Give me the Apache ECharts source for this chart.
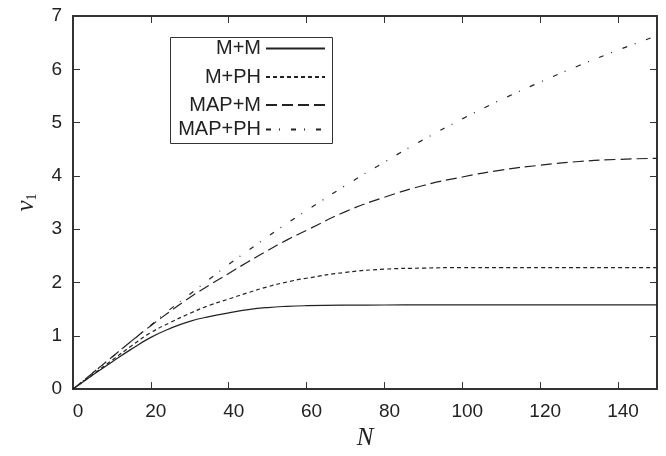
<!DOCTYPE html>
<html>
<head>
<meta charset="utf-8">
<script src="https://cdn.jsdelivr.net/npm/echarts@6/dist/echarts.min.js"></script>
<style>
html,body{margin:0;padding:0;background:#fff;}
#c{width:666px;height:456px;}
</style>
</head>
<body>
<div id="c"></div>
<script>
var N = [0,5,10,15,20,25,30,35,40,45,50,55,60,70,80,90,100,110,120,130,140,150];
var seriesNames = ['M+M','M+PH','MAP+M','MAP+PH'];
var mm    = [0,0.26,0.51,0.75,0.97,1.14,1.27,1.36,1.43,1.49,1.53,1.553,1.565,1.575,1.578,1.58,1.58,1.58,1.58,1.58,1.58,1.58];
var mph   = [0,0.27,0.54,0.81,1.06,1.25,1.42,1.57,1.69,1.81,1.92,2.01,2.08,2.19,2.25,2.27,2.28,2.28,2.28,2.28,2.28,2.28];
var mapm  = [0,0.3,0.6,0.9,1.19,1.46,1.72,1.95,2.17,2.39,2.6,2.8,2.98,3.33,3.6,3.82,3.98,4.11,4.2,4.27,4.31,4.33];
var mapph = [0,0.3,0.6,0.9,1.2,1.5,1.78,2.06,2.34,2.6,2.86,3.11,3.35,3.82,4.26,4.68,5.07,5.43,5.76,6.07,6.36,6.63];
var xTicks = [0,20,40,60,80,100,120,140];
var yTicks = [0,1,2,3,4,5,6,7];

function pairs(ys){ return N.map(function(n,i){ return [n, ys[i]]; }); }
var values = [mm, mph, mapm, mapph];
var dashes = ['solid', [4,3], [11,5], [5,8,1,11]];
var legendCenters = [48.5, 77, 105, 129.5];

var frameColor = '#333';
var lineColor = '#222';
var font = 'Liberation Sans, Arial, sans-serif';

var chart = echarts.init(document.getElementById('c'), null, {renderer:'canvas'});

function xAx(pos, showLabel){
  return {
    type:'value', position:pos, min:0, max:150, interval:20,
    axisLine:{show:true, onZero:false, lineStyle:{color:frameColor, width:2}},
    axisTick:{show:true, inside:true, length:7, lineStyle:{color:frameColor, width:1}},
    axisLabel:{show:showLabel, color:'#222', fontSize:19, fontFamily:font, margin:13, padding:[0,0,0,10],
      showMaxLabel:false},
    splitLine:{show:false},
    name: showLabel ? 'N' : '',
    nameLocation:'middle', nameGap:29,
    nameTextStyle:{fontFamily:'Liberation Serif, Times New Roman, serif', fontStyle:'italic', fontSize:25, color:'#222'}
  };
}
function yAx(pos, showLabel){
  return {
    type:'value', position:pos, min:0, max:7, interval:1,
    axisLine:{show:true, onZero:false, lineStyle:{color:frameColor, width:2}},
    axisTick:{show:true, inside:true, length:7, lineStyle:{color:frameColor, width:1}},
    axisLabel:{show:showLabel, color:'#222', fontSize:19, fontFamily:font, margin:11},
    splitLine:{show:false},
    name: showLabel ? '{a|ν}{b|1}' : '',
    nameLocation:'middle', nameGap:34,
    nameTextStyle:{
      rich:{
        a:{fontFamily:'Liberation Serif, Times New Roman, serif', fontStyle:'italic', fontSize:25, color:'#222'},
        b:{fontFamily:'Liberation Serif, Times New Roman, serif', fontSize:14, color:'#222', padding:[12,0,0,0]}
      }
    }
  };
}

var legends = seriesNames.map(function(name, i){
  return {
    data:[name], orient:'vertical', align:'right', right:340, top:legendCenters[i]-10,
    padding:0, itemWidth:59, itemHeight:20, itemGap:0, selectedMode:false,
    itemStyle:{opacity:0},
    textStyle:{fontSize:20, fontFamily:font, color:'#222', lineHeight:20}
  };
});

var series = seriesNames.map(function(name, i){
  return {
    name:name, type:'line', data:pairs(values[i]), xAxisIndex:0, yAxisIndex:0,
    smooth:0.5, showSymbol:false, symbol:'none',
    lineStyle:{color:lineColor, width:1.2, type:dashes[i]},
    itemStyle:{color:lineColor},
    animation:false
  };
});

chart.setOption({
  animation:false,
  backgroundColor:'#fff',
  grid:{left:73, right:9, top:16, bottom:62, containLabel:false},
  xAxis:[xAx('bottom', true), xAx('top', false)],
  yAxis:[yAx('left', true), yAx('right', false)],
  legend:legends,
  graphic:[{
    type:'rect', shape:{x:170.5, y:37.5, width:162, height:106},
    style:{fill:null, stroke:'#333', lineWidth:1}, z:100
  }],
  series:series
});
</script>
</body>
</html>
